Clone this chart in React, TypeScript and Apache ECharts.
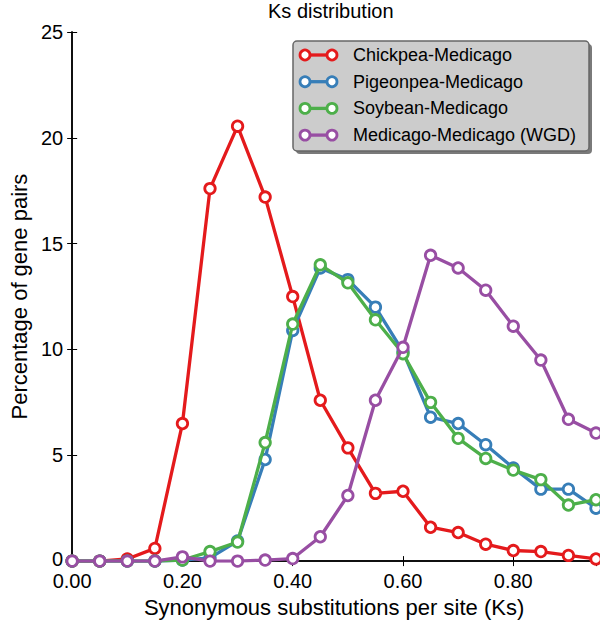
import React, { useEffect, useRef } from "react";
import * as echarts from "echarts";

const ks = [0, 0.05, 0.1, 0.15, 0.2, 0.25, 0.3, 0.35, 0.4, 0.45, 0.5, 0.55, 0.6, 0.65, 0.7, 0.75, 0.8, 0.85, 0.9, 0.95];
const chickpea = [0, 0, 0.1, 0.6, 6.5, 17.6, 20.55, 17.2, 12.5, 7.6, 5.35, 3.2, 3.3, 1.6, 1.35, 0.8, 0.5, 0.45, 0.27, 0.1];
const pigeonpea = [0, 0, 0, 0, 0.05, 0.15, 0.95, 4.8, 10.9, 13.85, 13.3, 12.0, 9.9, 6.8, 6.5, 5.5, 4.4, 3.4, 3.4, 2.5];
const soybean = [0, 0, 0, 0, 0.05, 0.45, 0.9, 5.6, 11.2, 14.0, 13.15, 11.4, 9.8, 7.5, 5.8, 4.85, 4.3, 3.85, 2.65, 2.9];
const medicago = [0, 0, 0, 0, 0.2, 0, 0, 0.05, 0.12, 1.15, 3.1, 7.6, 10.1, 14.45, 13.85, 12.8, 11.1, 9.5, 6.7, 6.05];

const seriesNames = ["Chickpea-Medicago", "Pigeonpea-Medicago", "Soybean-Medicago", "Medicago-Medicago (WGD)"];
const seriesValues = [chickpea, pigeonpea, soybean, medicago];
const colors = ["#e41a1c", "#377eb8", "#4daf4a", "#984ea3"];

const titleText = "Ks distribution";
const xName = "Synonymous substitutions per site (Ks)";
const yName = "Percentage of gene pairs";

const FONT = "'Liberation Sans', Arial, Helvetica, sans-serif";

export default function App() {
  const ref = useRef<HTMLDivElement>(null);
  useEffect(() => {
    if (!ref.current) return;
    const chart = echarts.init(ref.current, null, { renderer: "svg" });

    const axisLine = { show: true, lineStyle: { color: "#000", width: 1.5 } };
    const tick = { show: true, inside: true, length: 5, lineStyle: { color: "#000", width: 1 } };

    const legendItems: any[] = [];
    seriesNames.forEach((name, i) => {
      const y = 55 + i * 26.7;
      legendItems.push(
        { type: "line", shape: { x1: 305, y1: y, x2: 332, y2: y }, style: { stroke: colors[i], lineWidth: 3.3 }, z: 101 },
        { type: "circle", shape: { cx: 305, cy: y, r: 5 }, style: { fill: "#fff", stroke: colors[i], lineWidth: 2.8 }, z: 102 },
        { type: "circle", shape: { cx: 332, cy: y, r: 5 }, style: { fill: "#fff", stroke: colors[i], lineWidth: 2.8 }, z: 102 },
        {
          type: "text",
          x: 353,
          y: y,
          style: { text: name, fill: "#000", font: `18px ${FONT}`, textVerticalAlign: "middle", verticalAlign: "middle" },
          z: 102,
        }
      );
    });

    chart.setOption({
      animation: false,
      backgroundColor: "#fff",
      title: {
        text: titleText,
        left: 268,
        top: 1,
        padding: 0,
        textStyle: { fontFamily: FONT, fontSize: 20, fontWeight: "normal", color: "#000" },
      },
      grid: { left: 65, right: 4, top: 32, bottom: 61, containLabel: false },
      xAxis: [
        {
          type: "value",
          min: 0,
          max: 0.95,
          interval: 0.2,
          name: xName,
          nameLocation: "middle",
          nameGap: 34,
          nameTextStyle: { fontFamily: FONT, fontSize: 22, color: "#000" },
          axisLine,
          axisTick: tick,
          splitLine: { show: false },
          axisLabel: {
            fontFamily: FONT,
            fontSize: 20,
            lineHeight: 20,
            color: "#000",
            margin: 10,
            showMaxLabel: false,
            formatter: (v: number) => v.toFixed(2),
          },
        },
        {
          type: "value",
          position: "top",
          min: 0,
          max: 0.95,
          interval: 0.2,
          axisLine,
          axisTick: tick,
          splitLine: { show: false },
          axisLabel: { show: false },
        },
      ],
      yAxis: [
        {
          type: "value",
          min: 0,
          max: 25,
          interval: 5,
          name: yName,
          nameLocation: "middle",
          nameGap: 36,
          nameTextStyle: { fontFamily: FONT, fontSize: 22, color: "#000" },
          axisLine,
          axisTick: tick,
          splitLine: { show: false },
          axisLabel: {
            fontFamily: FONT,
            fontSize: 20,
            lineHeight: 17,
            color: "#000",
            margin: 9,
            formatter: (v: number) => (v === 0 ? "{z|0}" : String(v)),
            rich: { z: { fontFamily: FONT, fontSize: 20, lineHeight: 17, color: "#000", padding: [0, 0, 5, 0] } },
          },
        },
        {
          type: "value",
          position: "right",
          min: 0,
          max: 25,
          interval: 5,
          axisLine,
          axisTick: tick,
          splitLine: { show: false },
          axisLabel: { show: false },
        },
      ],
      series: seriesValues.map((vals, i) => ({
        name: seriesNames[i],
        type: "line",
        data: vals.map((v, j) => [ks[j], v]),
        symbol: "circle",
        symbolSize: 10.5,
        showAllSymbol: true,
        clip: true,
        lineStyle: { color: colors[i], width: 3.3 },
        itemStyle: { color: "#fff", borderColor: colors[i], borderWidth: 2.8 },
        z: 2 + i,
      })),
      graphic: [
        { type: "rect", shape: { x: 296, y: 44, width: 296, height: 110, r: 4 }, style: { fill: "#7a7a7a" }, z: 99 },
        {
          type: "rect",
          shape: { x: 293, y: 41, width: 296, height: 110, r: 4 },
          style: { fill: "#cccccc", stroke: "#666", lineWidth: 1.5 },
          z: 100,
        },
        ...legendItems,
      ],
    });
    return () => chart.dispose();
  }, []);
  return <div ref={ref} style={{ position: "fixed", left: 0, top: 0, width: 600, height: 623 }} />;
}
